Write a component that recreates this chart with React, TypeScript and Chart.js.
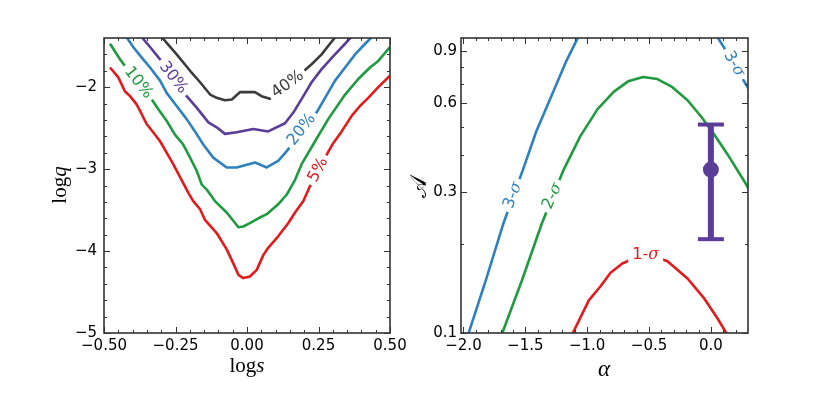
import React, { useEffect, useRef } from 'react';
import { Chart, registerables } from 'chart.js';

Chart.register(...registerables);

const RED = '#e31a1c';
const GREEN = '#1f9a3e';
const BLUE = '#2f80bf';
const PURPLE = '#5b3d99';
const DARK = '#3c3c3c';
const SPINE = '#333333';

// ---------- Left panel: log s vs log q contours ----------
const c5x = [-0.479, -0.45, -0.427, -0.409, -0.386, -0.368, -0.351, -0.328, -0.304, -0.281, -0.258, -0.223, -0.205, -0.188, -0.164, -0.147, -0.106, -0.071, -0.048, -0.03, -0.013, 0.01, 0.034, 0.057, 0.074, 0.109, 0.144, 0.168, 0.197, 0.22, 0.279, 0.302, 0.331, 0.366, 0.395, 0.424, 0.459, 0.5];
const c5y = [-1.76, -1.88, -2.05, -2.11, -2.21, -2.33, -2.45, -2.55, -2.66, -2.8, -2.94, -3.17, -3.29, -3.39, -3.49, -3.62, -3.78, -3.98, -4.15, -4.29, -4.33, -4.31, -4.23, -4.05, -3.96, -3.82, -3.66, -3.53, -3.39, -3.21, -2.82, -2.68, -2.54, -2.35, -2.23, -2.13, -2.0, -1.86];

const c10x = [-0.479, -0.444, -0.427, -0.333, -0.31, -0.281, -0.252, -0.223, -0.199, -0.176, -0.158, -0.141, -0.112, -0.071, -0.03, -0.013, 0.01, 0.04, 0.069, 0.109, 0.139, 0.168, 0.191, 0.238, 0.284, 0.343, 0.389, 0.43, 0.459, 0.5];
const c10y = [-1.47, -1.66, -1.74, -2.15, -2.27, -2.41, -2.58, -2.7, -2.86, -3.02, -3.19, -3.25, -3.39, -3.53, -3.71, -3.7, -3.66, -3.6, -3.55, -3.43, -3.31, -3.13, -2.94, -2.66, -2.39, -2.09, -1.9, -1.76, -1.68, -1.51];

const c20x = [-0.421, -0.398, -0.363, -0.339, -0.304, -0.281, -0.246, -0.211, -0.182, -0.153, -0.118, -0.071, -0.036, 0.028, 0.069, 0.109, 0.139, 0.243, 0.273, 0.308, 0.343, 0.378, 0.413, 0.448];
const c20y = [-1.39, -1.51, -1.66, -1.76, -1.92, -2.07, -2.23, -2.39, -2.54, -2.7, -2.86, -2.98, -2.98, -2.92, -2.98, -2.9, -2.78, -2.31, -2.13, -1.92, -1.76, -1.6, -1.47, -1.35];

const c30x = [-0.368, -0.339, -0.304, -0.211, -0.176, -0.135, -0.106, -0.077, -0.036, 0.022, 0.074, 0.133, 0.162, 0.197, 0.226, 0.261, 0.302, 0.343, 0.372];
const c30y = [-1.39, -1.51, -1.66, -2.11, -2.25, -2.43, -2.49, -2.57, -2.55, -2.51, -2.54, -2.44, -2.31, -2.11, -1.94, -1.78, -1.62, -1.47, -1.36];

const c40x = [-0.298, -0.246, -0.199, -0.164, -0.129, -0.106, -0.077, -0.053, -0.024, 0.028, 0.051, 0.08, 0.203, 0.226, 0.261, 0.29, 0.311];
const c40y = [-1.39, -1.6, -1.8, -1.94, -2.09, -2.13, -2.16, -2.15, -2.06, -2.06, -2.11, -2.14, -1.79, -1.72, -1.6, -1.47, -1.38];

const leftLabelText = ['5%', '10%', '20%', '30%', '40%'];
const leftLabelX = [0.249, -0.38, 0.191, -0.258, 0.142];
const leftLabelY = [-3.01, -1.945, -2.52, -1.885, -1.965];
const leftLabelAngle = [-62, 52, -52, 52, -36];
const leftLabelColor = [RED, GREEN, BLUE, PURPLE, DARK];

const leftXTicks = [-0.5, -0.25, 0, 0.25, 0.5];
const leftXTickLabels = ['\u22120.50', '\u22120.25', '0.00', '0.25', '0.50'];
const leftXMinor = [-0.45, -0.4, -0.35, -0.3, -0.2, -0.15, -0.1, -0.05, 0.05, 0.1, 0.15, 0.2, 0.3, 0.35, 0.4, 0.45];
const leftYTicks = [-5, -4, -3, -2];
const leftYTickLabels = ['\u22125', '\u22124', '\u22123', '\u22122'];
const leftYMinor = [-4.8, -4.6, -4.4, -4.2, -3.8, -3.6, -3.4, -3.2, -2.8, -2.6, -2.4, -2.2, -1.8, -1.6];

// ---------- Right panel: alpha vs A confidence contours ----------
const s3aX = [-1.965, -1.819, -1.676, -1.514, -1.411, -1.277, -1.168, -1.071];
const s3aY = [0.098, 0.151, 0.236, 0.363, 0.483, 0.653, 0.837, 1.01];
const s3bX = [0.045, 0.13, 0.243, 0.31];
const s3bY = [1.02, 0.895, 0.743, 0.668];
const s2X = [-1.694, -1.527, -1.365, -1.19, -1.054, -0.916, -0.784, -0.669, -0.547, -0.432, -0.311, -0.189, -0.081, 0.027, 0.135, 0.27, 0.31];
const s2Y = [0.098, 0.151, 0.236, 0.358, 0.466, 0.574, 0.658, 0.713, 0.738, 0.726, 0.681, 0.615, 0.543, 0.471, 0.403, 0.327, 0.305];
const s1X = [-1.126, -0.987, -0.892, -0.811, -0.716, -0.53, -0.351, -0.189, -0.054, 0.054, 0.137];
const s1Y = [0.098, 0.129, 0.144, 0.16, 0.172, 0.186, 0.175, 0.153, 0.131, 0.112, 0.098];

const measAlpha = [0.0];
const measA = [0.358];
const measALow = [0.208];
const measAHigh = [0.509];

const rightLabelNum = ['3-', '2-', '1-', '3-'];
const rightLabelX = [-1.6, -1.28, -0.527, 0.187];
const rightLabelY = [0.293, 0.291, 0.184, 0.816];
const rightLabelAngle = [-70, -66, 0, 60];
const rightLabelColor = [BLUE, GREEN, RED, BLUE];

const rightXTicks = [-2, -1.5, -1, -0.5, 0];
const rightXTickLabels = ['\u22122.0', '\u22121.5', '\u22121.0', '\u22120.5', '0.0'];
const rightXMinor = [-1.9, -1.8, -1.7, -1.6, -1.4, -1.3, -1.2, -1.1, -0.9, -0.8, -0.7, -0.6, -0.4, -0.3, -0.2, -0.1, 0.1, 0.2];
const rightYTicks = [0.1, 0.3, 0.6, 0.9];
const rightYTickLabels = ['0.1', '0.3', '0.6', '0.9'];
const rightYMinor = [0.2, 0.4, 0.5, 0.7, 0.8];

// ---------- helpers ----------
const zip = (xs: number[], ys: number[]) => xs.map((x, i) => ({ x, y: ys[i] }));

type Seg = [string, string];
type CLabel = { segs: Seg[]; x: number; y: number; angle: number; color: string };

const LABEL_FONT = '16px "DejaVu Sans"';
const SIGMA_FONT = 'italic 16px "DejaVu Serif"';

function measure(ctx: CanvasRenderingContext2D, segs: Seg[]) {
  let w = 0;
  for (const [t, f] of segs) {
    ctx.font = f;
    w += ctx.measureText(t).width;
  }
  return w;
}

function drawSegs(ctx: CanvasRenderingContext2D, segs: Seg[], startX: number, y: number) {
  let cx = startX;
  for (const [t, f] of segs) {
    ctx.font = f;
    ctx.fillText(t, cx, y);
    cx += ctx.measureText(t).width;
  }
}

function labelsPlugin(labels: CLabel[]) {
  return {
    id: 'contourLabels',
    afterDatasetsDraw(chart: any) {
      const { ctx, scales } = chart;
      const xs = scales.x, ys = scales.y;
      for (const l of labels) {
        const px = xs.getPixelForValue(l.x);
        const py = ys.getPixelForValue(l.y);
        ctx.save();
        ctx.translate(px, py);
        ctx.rotate((l.angle * Math.PI) / 180);
        const w = measure(ctx, l.segs);
        ctx.fillStyle = '#ffffff';
        ctx.fillRect(-w / 2 - 4, -8, w + 8, 16);
        ctx.fillStyle = l.color;
        ctx.textAlign = 'left';
        ctx.textBaseline = 'middle';
        drawSegs(ctx, l.segs, -w / 2, 0);
        ctx.restore();
      }
    },
  };
}

function framePlugin(xMaj: number[], xMin: number[], yMaj: number[], yMin: number[]) {
  return {
    id: 'frame',
    afterDatasetsDraw(chart: any) {
      const { ctx, chartArea: a, scales } = chart;
      const xs = scales.x, ys = scales.y;
      ctx.save();
      ctx.strokeStyle = SPINE;
      ctx.lineWidth = 1;
      ctx.beginPath();
      const xt = (vals: number[], len: number) => {
        for (const v of vals) {
          const p = Math.round(xs.getPixelForValue(v)) + 0.5;
          ctx.moveTo(p, a.bottom);
          ctx.lineTo(p, a.bottom - len);
          ctx.moveTo(p, a.top);
          ctx.lineTo(p, a.top + len);
        }
      };
      const yt = (vals: number[], len: number) => {
        for (const v of vals) {
          const p = Math.round(ys.getPixelForValue(v)) + 0.5;
          ctx.moveTo(a.left, p);
          ctx.lineTo(a.left + len, p);
          ctx.moveTo(a.right, p);
          ctx.lineTo(a.right - len, p);
        }
      };
      xt(xMaj, 6);
      xt(xMin, 3);
      yt(yMaj, 6);
      yt(yMin, 3);
      ctx.stroke();
      ctx.lineWidth = 1.6;
      ctx.strokeRect(a.left, a.top, a.right - a.left, a.bottom - a.top);
      ctx.restore();
    },
  };
}

type Title = { segs: Seg[]; x: number; y: number; rot: number };

function titlesPlugin(titles: Title[]) {
  return {
    id: 'titles',
    afterDraw(chart: any) {
      const { ctx } = chart;
      for (const t of titles) {
        ctx.save();
        ctx.translate(t.x, t.y);
        ctx.rotate((t.rot * Math.PI) / 180);
        const w = measure(ctx, t.segs);
        ctx.fillStyle = '#000';
        ctx.textAlign = 'left';
        ctx.textBaseline = 'alphabetic';
        drawSegs(ctx, t.segs, -w / 2, 0);
        ctx.restore();
      }
    },
  };
}

const lineDs = (xs: number[], ys: number[], color: string) => ({
  type: 'line',
  data: zip(xs, ys),
  borderColor: color,
  backgroundColor: color,
  borderWidth: 2.6,
  pointRadius: 0,
  tension: 0,
  fill: false,
  borderJoinStyle: 'round',
});

function axisX(min: number, max: number, ticks: number[], labels: string[]) {
  return {
    type: 'linear',
    min,
    max,
    grid: { display: false, drawTicks: false },
    border: { display: false },
    afterBuildTicks: (s: any) => {
      s.ticks = ticks.map((v) => ({ value: v }));
    },
    afterFit: (s: any) => {
      s.height = 60;
    },
    ticks: {
      callback: (_v: any, i: number) => labels[i],
      color: '#000',
      font: { family: 'DejaVu Sans', size: 15 },
      padding: 4,
      maxRotation: 0,
      autoSkip: false,
    },
  };
}

function axisY(type: string, min: number, max: number, ticks: number[], labels: string[], width: number, pad: number) {
  return {
    type,
    min,
    max,
    grid: { display: false, drawTicks: false },
    border: { display: false },
    afterBuildTicks: (s: any) => {
      s.ticks = ticks.map((v) => ({ value: v }));
    },
    afterFit: (s: any) => {
      s.width = width;
    },
    ticks: {
      callback: (_v: any, i: number) => labels[i],
      color: '#000',
      font: { family: 'DejaVu Sans', size: 15 },
      padding: pad,
      autoSkip: false,
    },
  };
}

function buildLeft() {
  const labels: CLabel[] = leftLabelText.map((t, i) => ({
    segs: [[t, LABEL_FONT]],
    x: leftLabelX[i],
    y: leftLabelY[i],
    angle: leftLabelAngle[i],
    color: leftLabelColor[i],
  }));
  const serif = '21px "Liberation Serif"';
  const serifI = 'italic 21px "Liberation Serif"';
  return {
    type: 'line',
    data: {
      datasets: [
        lineDs(c40x, c40y, DARK),
        lineDs(c30x, c30y, PURPLE),
        lineDs(c20x, c20y, BLUE),
        lineDs(c10x, c10y, GREEN),
        lineDs(c5x, c5y, RED),
      ],
    },
    options: {
      responsive: false,
      animation: false,
      devicePixelRatio: 1,
      layout: { padding: { left: 0, top: 38, right: 30, bottom: 0 } },
      plugins: { legend: { display: false }, tooltip: { enabled: false } },
      scales: {
        x: axisX(-0.5, 0.5, leftXTicks, leftXTickLabels),
        y: axisY('linear', -5, -1.4, leftYTicks, leftYTickLabels, 104, 7),
      },
    },
    plugins: [
      labelsPlugin(labels),
      framePlugin(leftXTicks, leftXMinor, leftYTicks, leftYMinor),
      titlesPlugin([
        { segs: [['log', serif], ['s', serifI]], x: 247, y: 372, rot: 0 },
        { segs: [['log', serif], ['q', serifI]], x: 66, y: 185, rot: -90 },
      ]),
    ],
  };
}

function buildRight() {
  const labels: CLabel[] = rightLabelNum.map((t, i) => ({
    segs: [[t, LABEL_FONT], ['\u03c3', SIGMA_FONT]],
    x: rightLabelX[i],
    y: rightLabelY[i],
    angle: rightLabelAngle[i],
    color: rightLabelColor[i],
  }));
  const serifI = 'italic 23px "Liberation Serif"';
  return {
    type: 'line',
    data: {
      datasets: [
        {
          type: 'line',
          data: zip(measAlpha, measA),
          showLine: false,
          pointRadius: 8,
          pointBackgroundColor: PURPLE,
          pointBorderWidth: 0,
          borderColor: PURPLE,
        },
        {
          type: 'line',
          data: [...zip(measAlpha, measALow), ...zip(measAlpha, measAHigh)],
          borderColor: PURPLE,
          borderWidth: 6,
          pointStyle: 'line',
          pointRadius: 13,
          pointBorderWidth: 4,
          pointBorderColor: PURPLE,
          borderCapStyle: 'butt',
        },
        lineDs(s3aX, s3aY, BLUE),
        lineDs(s3bX, s3bY, BLUE),
        lineDs(s2X, s2Y, GREEN),
        lineDs(s1X, s1Y, RED),
      ],
    },
    options: {
      responsive: false,
      animation: false,
      devicePixelRatio: 1,
      layout: { padding: { left: 0, top: 38, right: 83, bottom: 0 } },
      plugins: { legend: { display: false }, tooltip: { enabled: false } },
      scales: {
        x: axisX(-2.02, 0.3, rightXTicks, rightXTickLabels),
        y: axisY('logarithmic', 0.1, 1.0, rightYTicks, rightYTickLabels, 61, 4),
      },
    },
    plugins: [
      labelsPlugin(labels),
      framePlugin(rightXTicks, rightXMinor, rightYTicks, rightYMinor),
      titlesPlugin([
        { segs: [['\u03b1', serifI]], x: 204, y: 376, rot: 0 },
        { segs: [['\ud835\udc9c', '23px "DejaVu Serif"']], x: 26, y: 187, rot: -90 },
      ]),
    ],
  };
}

function Panel({ left, width, build }: { left: number; width: number; build: () => any }) {
  const ref = useRef<HTMLCanvasElement>(null);
  useEffect(() => {
    const chart = new Chart(ref.current as HTMLCanvasElement, build());
    return () => chart.destroy();
  }, []);
  return (
    <canvas
      ref={ref}
      width={width}
      height={393}
      style={{ position: 'absolute', left, top: 0, width, height: 393 }}
    />
  );
}

export default function App() {
  return (
    <div style={{ position: 'fixed', left: 0, top: 0, width: 831, height: 393, background: '#fff' }}>
      <Panel left={0} width={420} build={buildLeft} />
      <Panel left={400} width={431} build={buildRight} />
    </div>
  );
}
